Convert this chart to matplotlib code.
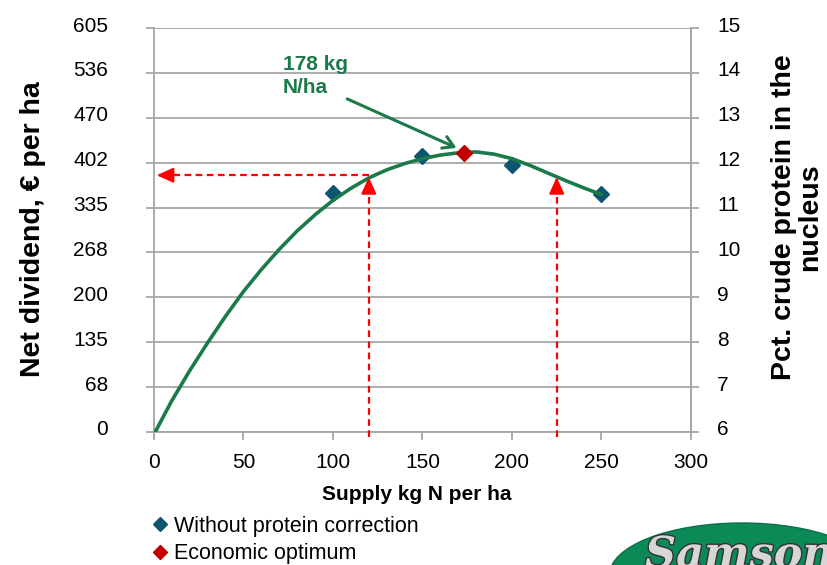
import numpy as np
import matplotlib
matplotlib.use('Agg')
import matplotlib.pyplot as plt
import matplotlib.patches as mpatches
import matplotlib.patheffects as pe
from matplotlib.lines import Line2D
from matplotlib.transforms import ScaledTranslation

plt.rcParams['font.family'] = ['Liberation Sans', 'DejaVu Sans']

# values (protein %, right axis units)
supply_pts = [100, 150, 200, 250]
protein_pts = [11.32, 12.16, 11.95, 11.31]
optimum_x = [173]
optimum_y = [12.22]

curve_x = [0, 10, 20, 30, 40, 50, 60, 70, 80, 90, 100, 110, 120, 130,
           140, 150, 160, 170, 180, 190, 200, 210, 220, 230, 240, 250]
curve_y = [5.95, 6.70, 7.37, 7.99, 8.58, 9.13, 9.62, 10.07, 10.48, 10.84,
           11.16, 11.43, 11.66, 11.84, 11.98, 12.09, 12.17, 12.22, 12.24,
           12.19, 12.09, 11.94, 11.77, 11.60, 11.44, 11.29]

# marked supply levels (red arrows)
marked_x = [120, 225]
marked_y = 11.68

x_ticks = [0, 50, 100, 150, 200, 250, 300]
left_ticklabels = ['0', '68', '135', '200', '268', '335', '402', '470', '536', '605']
right_ticks = [6, 7, 8, 9, 10, 11, 12, 13, 14, 15]

green = '#1B7A4A'
blue = '#0E5572'
red = '#C00000'
arrow_red = '#FF0000'
grey = '#A6A6A6'

fig = plt.figure(figsize=(8.27, 5.65), dpi=100)
ax = fig.add_axes([0.1862, 0.2354, 0.6493, 0.7150])
ax2 = ax.twinx()

#==============================================================================
# axes
ax.set_xlim(0, 300)
ax.set_ylim(0, 605)
ax.set_xticks(x_ticks)
ax.set_yticks(np.linspace(0, 605, len(left_ticklabels)))
ax.set_yticklabels(left_ticklabels)
ax.yaxis.grid(True, color=grey, lw=1.3)
ax.set_axisbelow(True)
for s in ['left', 'bottom', 'right']:
    ax.spines[s].set_color(grey)
    ax.spines[s].set_linewidth(1.3)
ax.spines['top'].set_visible(False)
ax.tick_params(axis='y', length=6, width=1.3, color=grey, pad=27, labelsize=15)
ax.tick_params(axis='x', length=6, width=1.3, color=grey, pad=9, labelsize=15)

ax2.set_ylim(6, 15)
ax2.set_yticks(right_ticks)
for s in ['left', 'bottom', 'top']:
    ax2.spines[s].set_visible(False)
ax2.spines['right'].set_color(grey)
ax2.spines['right'].set_linewidth(1.3)
ax2.tick_params(axis='y', length=6, width=1.3, color=grey, pad=13, labelsize=15)

shift = ScaledTranslation(0, 0.04, fig.dpi_scale_trans)
for lab in ax.get_yticklabels() + ax2.get_yticklabels():
    lab.set_transform(lab.get_transform() + shift)

#==============================================================================
# data
ax2.plot(supply_pts, protein_pts, 'D', color=blue, ms=8, zorder=3)
ax2.plot(curve_x, curve_y, color=green, lw=2.6, zorder=4,
         solid_capstyle='round', solid_joinstyle='round')
ax2.plot(optimum_x, optimum_y, 'D', color=red, ms=8, zorder=5)

# red dashed arrows
dash = dict(color=arrow_red, lw=1.6, dashes=(3, 2), clip_on=False, zorder=6)
head = dict(arrowstyle='-|>,head_length=1.0,head_width=0.45', color=arrow_red,
            lw=1.6, mutation_scale=10, shrinkA=0, shrinkB=0)
for x in marked_x:
    ax2.plot([x, x], [5.88, marked_y - 0.3], **dash)
    ax2.annotate('', xy=(x, marked_y), xytext=(x, marked_y - 0.32),
                 arrowprops=head, zorder=6)
ax2.plot([marked_x[0], 9], [marked_y + 0.04, marked_y + 0.04], **dash)
ax2.annotate('', xy=(1.5, marked_y + 0.04), xytext=(10, marked_y + 0.04),
             arrowprops=head, zorder=6)

# optimum annotation
ax2.annotate('', xy=(169, 12.33), xytext=(108, 13.42),
             arrowprops=dict(arrowstyle='->,head_length=0.5,head_width=0.3',
                             color=green, lw=2.2, mutation_scale=15,
                             shrinkA=0, shrinkB=0), zorder=7)
ax2.text(72, 14.4, '178 kg\nN/ha', color=green, fontsize=15, fontweight='bold',
         ha='left', va='top', linespacing=1.3)

#==============================================================================
# labels
fig.text(33 / 827, 1 - 229 / 565, 'Net dividend, \u20ac per ha', rotation=90,
         ha='center', va='center', fontsize=20.5, fontweight='bold')
fig.text(797 / 827, 1 - 217 / 565, 'Pct. crude protein in the\nnucleus', rotation=90,
         ha='center', va='center', fontsize=20.5, fontweight='bold',
         multialignment='center', linespacing=1.0)
fig.text(417 / 827, 1 - 494 / 565, 'Supply kg N per ha', ha='center', va='center',
         fontsize=15, fontweight='bold')

handles = [Line2D([], [], marker='D', ls='none', color=blue, ms=7),
           Line2D([], [], marker='D', ls='none', color=red, ms=7)]
fig.legend(handles, ['Without protein correction', 'Economic optimum'],
           loc='upper left', bbox_to_anchor=(154 / 827, 1 - 516 / 565),
           frameon=False, fontsize=15.5, handlelength=0.6, handletextpad=0.35,
           borderpad=0, borderaxespad=0, labelspacing=0.3)

# logo
fig.add_artist(mpatches.Ellipse((742 / 827, 1 - 575 / 565), 265 / 827, 104 / 565,
                                transform=fig.transFigure, facecolor='#0B8A58',
                                edgecolor='#0A6E46', lw=1))
fig.text(645 / 827, -0.004, 'Samson', fontsize=31, fontstyle='italic',
         fontweight='bold', family='DejaVu Serif', color='#D6D6D6',
         ha='left', va='baseline',
         path_effects=[pe.withStroke(linewidth=2, foreground='#333333')])

fig.savefig('out.png', dpi=100)
